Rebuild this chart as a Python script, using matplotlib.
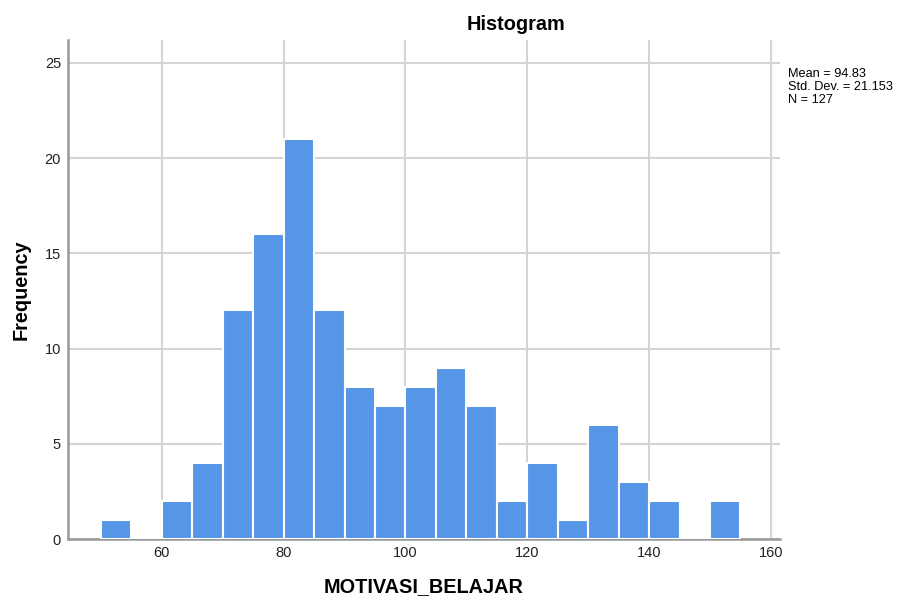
import matplotlib.pyplot as plt
import numpy as np

plt.rcParams["font.family"] = ["Liberation Sans", "DejaVu Sans"]

# histogram bins (width 5) and counts
bin_edges = list(range(50, 160, 5))
counts = [1, 0, 2, 4, 12, 16, 21, 12, 8, 7, 8, 9, 7, 2, 4, 1, 6, 3, 2, 0, 2]

mean_val = 94.83
std_val = 21.153
n_val = 127

x_ticks = [60, 80, 100, 120, 140, 160]
y_ticks = [0, 5, 10, 15, 20, 25]

fig = plt.figure(figsize=(9.03, 6.03), dpi=100)
ax = fig.add_axes([0.0753, 0.1061, 0.7885, 0.8276])

ax.bar(bin_edges[:-1], counts, width=5, align="edge",
       color="#5596e6", edgecolor="white", linewidth=1.5, zorder=3)

ax.set_xlim(44.6, 161.5)
ax.set_ylim(0, 26.2)
ax.set_xticks(x_ticks)
ax.set_yticks(y_ticks)
ax.grid(True, color="#d4d4d4", linewidth=1.5, zorder=0)
ax.tick_params(length=0, labelsize=10.5, colors="#222222", pad=5)

for side in ["top", "right"]:
    ax.spines[side].set_visible(False)
for side in ["left", "bottom"]:
    ax.spines[side].set_color("#999999")
    ax.spines[side].set_linewidth(1.8)

ax.set_xlabel("MOTIVASI_BELAJAR", fontsize=14.3, fontweight="bold", labelpad=12)
ax.set_ylabel("Frequency", fontsize=14.3, fontweight="bold", labelpad=10)

fig.text(0.571, 0.96, "Histogram", fontsize=14.3, fontweight="bold",
         ha="center", va="center")
fig.text(0.873, 0.888, "Mean = %.2f\nStd. Dev. = %.3f\nN = %d" % (mean_val, std_val, n_val),
         fontsize=9.2, ha="left", va="top", linespacing=1.15)

fig.savefig("out.png", dpi=100)
